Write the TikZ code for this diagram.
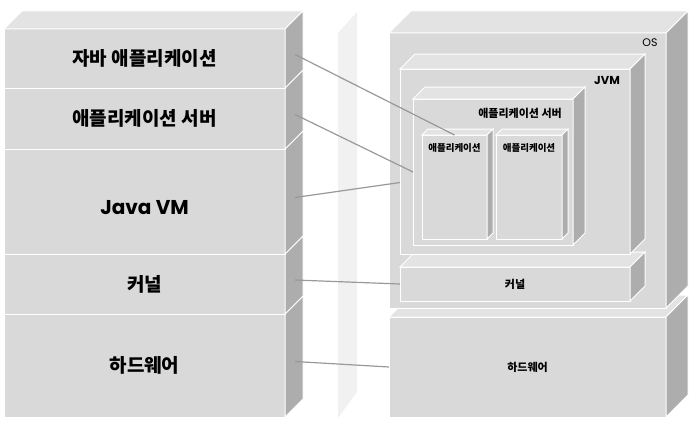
\documentclass[tikz,border=0pt]{standalone}
\usepackage{fontspec}
\setmainfont{Noto Sans CJK KR}
\newfontfamily\latin{Poppins}
\usetikzlibrary{calc}
\definecolor{facefront}{HTML}{D9D9D9}
\definecolor{faceside}{HTML}{ADADAD}
\definecolor{facetop}{HTML}{E3E3E3}
\definecolor{stripgray}{HTML}{F1F1F1}
\definecolor{linkgray}{HTML}{999999}
% top and side of a box node, depth #2
\newcommand{\boxfaces}[2]{%
  \filldraw[topface] (#1.north west) -- ++(#2,-#2) -- ($(#1.north east)+(#2,-#2)$) -- (#1.north east) -- cycle;
  \filldraw[sideface] (#1.north east) -- ++(#2,-#2) -- ($(#1.south east)+(#2,-#2)$) -- (#1.south east) -- cycle;}

\begin{document}
\begin{tikzpicture}[x=1pt, y=-1pt,
  face/.style={rectangle,draw=white,line width=1pt,fill=facefront,anchor=north west,inner sep=0pt,outer sep=0pt},
  topface/.style={draw=white,line width=1pt,fill=facetop},
  sideface/.style={draw=white,line width=1pt,fill=faceside},
  big/.style={font=\bfseries\fontsize{19}{22}\selectfont},
  small/.style={font=\bfseries\fontsize{11}{13}\selectfont},
  tiny/.style={font=\bfseries\fontsize{9.5}{11}\selectfont},
  link/.style={draw=linkgray,line width=1.2pt}]
\useasboundingbox (0,0) rectangle (700,428);

% left stack, bottom up
\node[face, big, minimum width=281, minimum height=103] (L5) at (4,314) {하드웨어};
\boxfaces{L5}{18}
\node[face, big, minimum width=281, minimum height=60] (L4) at (4,254) {커널};
\boxfaces{L4}{18}
\node[face, minimum width=281, minimum height=105] (L3) at (4,149) {};
\boxfaces{L3}{18}
\node[face, big, minimum width=281, minimum height=61] (L2) at (4,88) {애플리케이션 서버};
\boxfaces{L2}{18}
\node[face, big, minimum width=281, minimum height=59] (L1) at (4,29) {자바 애플리케이션};
\boxfaces{L1}{18}
\node[font=\latin\bfseries\fontsize{20}{24}\selectfont] (L3l) at ($(L3.center)+(0,6)$) {Java VM};

% strip
\fill[stripgray] (338,33) -- (357,12) -- (357,392) -- (338,418) -- cycle;

% right side
\node[face, small, minimum width=277, minimum height=100] (hw) at (389,317) {하드웨어};
\boxfaces{hw}{22}
\node[face, minimum width=277, minimum height=275] (os) at (389,33) {};
\boxfaces{os}{22}
\node[face, small, minimum width=230, minimum height=34] (krn) at (400,267) {커널};
\boxfaces{krn}{15}
\node[face, minimum width=230, minimum height=185] (jvm) at (400,69) {};
\boxfaces{jvm}{15}
\node[face, minimum width=160, minimum height=146] (srv) at (413,99) {};
\boxfaces{srv}{12}
\node[face, minimum width=65, minimum height=104] (app1) at (422,135) {};
\boxfaces{app1}{6}
\node[face, minimum width=66, minimum height=104] (app2) at (496,135) {};
\boxfaces{app2}{6}

\node[font=\latin\fontsize{11}{13}\selectfont] (osl) at (650,43) {OS};
\node[font=\latin\bfseries\fontsize{11.5}{14}\selectfont] (jvml) at (607,81) {JVM};
\node[small] (srvl) at (520,113) {애플리케이션 서버};
\node[tiny] (app1l) at ($(app1.north)+(0,13)$) {애플리케이션};
\node[tiny] (app2l) at ($(app2.north)+(0,13)$) {애플리케이션};

% links
\foreach \n in {1,...,5}
  \coordinate (s\n) at ($(L\n.east)+(10,-4)$);
\coordinate (j1) at ($(jvm.west)+(0,21)$);
\draw[link] (s1) -- (app1.north);
\draw[link] (s2) -- (srv.west);
\draw[link] (s3) -- (j1);
\draw[link] (s4) -- (krn.west);
\draw[link] (s5) -- (hw.west);
\end{tikzpicture}
\end{document}
